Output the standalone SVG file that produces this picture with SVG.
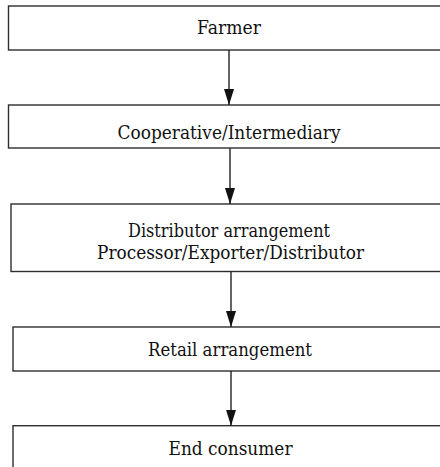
<svg xmlns="http://www.w3.org/2000/svg" width="440" height="467" viewBox="0 0 440 467">
  <defs>
    <style>
      .box { fill: #ffffff; stroke: #2e2e2e; stroke-width: 1.4; }
      .lbl { font-family: 'DejaVu Serif', 'Liberation Serif', serif; font-size: 19px; fill: #111111; text-anchor: middle; }
      .edge { stroke: #222222; stroke-width: 1.4; fill: none; marker-end: url(#arrow); }
    </style>
    <marker id="arrow" markerUnits="userSpaceOnUse" markerWidth="16" markerHeight="10" refX="16" refY="5" orient="auto" viewBox="0 0 16 10">
      <path d="M0,0 L16,5 L0,10 Z" fill="#111111"/>
    </marker>
  </defs>
  <rect width="440" height="467" fill="#ffffff"/>

  <!-- nodes -->
  <g id="farmer">
    <rect class="box" x="8.5" y="6" width="440" height="44"/>
    <text class="lbl" x="229" y="34" textLength="64" lengthAdjust="spacingAndGlyphs">Farmer</text>
  </g>
  <g id="cooperative">
    <rect class="box" x="8.5" y="105" width="440" height="43"/>
    <text class="lbl" x="229" y="139" textLength="223" lengthAdjust="spacingAndGlyphs">Cooperative/Intermediary</text>
  </g>
  <g id="distributor">
    <rect class="box" x="11" y="204" width="440" height="67.5"/>
    <text class="lbl" x="229" y="237" textLength="202" lengthAdjust="spacingAndGlyphs">Distributor arrangement</text>
    <text class="lbl" x="230.5" y="259" textLength="267" lengthAdjust="spacingAndGlyphs">Processor/Exporter/Distributor</text>
  </g>
  <g id="retail">
    <rect class="box" x="13" y="327" width="440" height="44"/>
    <text class="lbl" x="230" y="356" textLength="164" lengthAdjust="spacingAndGlyphs">Retail arrangement</text>
  </g>
  <g id="consumer">
    <rect class="box" x="13" y="425.7" width="440" height="60"/>
    <text class="lbl" x="230.5" y="455" textLength="124" lengthAdjust="spacingAndGlyphs">End consumer</text>
  </g>

  <!-- connectors -->
  <g id="connectors">
    <line class="edge" x1="229" y1="50" x2="229" y2="105"/>
    <line class="edge" x1="230" y1="148" x2="230" y2="204"/>
    <line class="edge" x1="231" y1="271.5" x2="231" y2="327"/>
    <line class="edge" x1="231" y1="371" x2="231" y2="425.7"/>
  </g>
</svg>
